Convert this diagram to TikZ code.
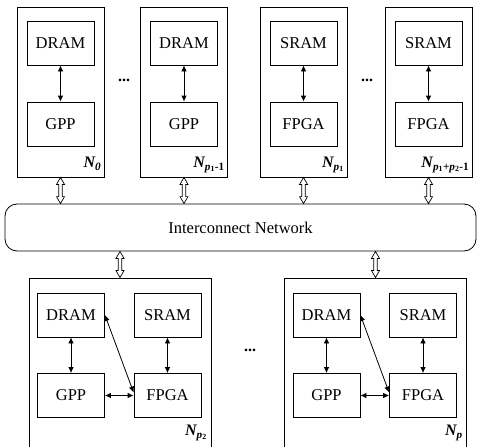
\documentclass[tikz,border=0pt]{standalone}
\usepackage{fontspec}
\setmainfont{Liberation Serif}
\usetikzlibrary{arrows.meta,calc}

\newcommand{\ix}[1]{\textsubscript{\upshape #1}}
% hollow double-shafted bus arrow between two points on one vertical
\newcommand{\bus}[2]{%
  \draw[busline] (#1) -- ++(4,7) -- ++(-2.25,0) -- ($(#2)+(1.75,-7)$) -- ++(2.25,0) -- (#2)
    -- ++(-4,-7) -- ++(2.25,0) -- ($(#1)+(-1.75,7)$) -- ++(-2.25,0) -- cycle;}

\tikzset{
  outerbox/.style={draw, line width=0.9pt, inner sep=0pt},
  unitbox/.style={draw, line width=0.8pt, minimum width=67pt, minimum height=44pt, inner sep=0pt},
  link/.style={line width=0.8pt, {Latex[length=6pt,width=5.5pt]}-{Latex[length=6pt,width=5.5pt]}},
  busline/.style={line width=0.7pt, fill=white},
  nlabel/.style={font=\fontsize{16pt}{19pt}\selectfont\bfseries\itshape, inner sep=0pt},
  dots/.style={font=\fontsize{16pt}{19pt}\selectfont\bfseries}
}

\begin{document}
\begin{tikzpicture}[x=1pt, y=-1pt, font=\fontsize{16.5pt}{19pt}\selectfont]
  \useasboundingbox (0,0) rectangle (477,447);
  \clip (0,0) rectangle (477,447);

  % Top nodes
  \foreach \i/\cx/\mem/\proc in {0/60.5/DRAM/GPP, 1/184/DRAM/GPP, 2/303.5/SRAM/FPGA, 3/428.5/SRAM/FPGA} {
    \node[outerbox, minimum width=87pt, minimum height=170pt] (n\i) at (\cx,92) {};
    \node[unitbox] (m\i) at (\cx,43) {\mem};
    \node[unitbox] (p\i) at (\cx,124) {\proc};
    \draw[link] (m\i) -- (p\i);
  }

  % Labels
  \node[nlabel, anchor=base east] at ([shift={(-3pt,10pt)}]n0.south east) {N\textsubscript{0}};
  \node[nlabel, anchor=base east] at ([shift={(-3pt,10pt)}]n1.south east) {N\textsubscript{p\ix{1}\upshape -1}};
  \node[nlabel, anchor=base east] at ([shift={(-3pt,10pt)}]n2.south east) {N\textsubscript{p\ix{1}}};
  \node[nlabel, anchor=base east] at ([shift={(-3pt,10pt)}]n3.south east) {N\textsubscript{p\ix{1}{\upshape +}p\ix{2}\upshape -1}};

  \node[dots] (d0) at (124,80) {...};
  \node[dots] (d1) at (367,80) {...};

  % Interconnect
  \node[draw, line width=0.8pt, rounded corners=12pt, minimum width=471pt, minimum height=47pt] (net) at (240.5,227.5) {Interconnect Network};

  \foreach \i in {0,...,3}
    \bus{n\i.south}{n\i.south |- net.north};

  % Bottom nodes
  \foreach \i/\cx in {0/120, 1/375.5} {
    \node[outerbox, minimum width=182pt, minimum height=175pt] (b\i) at (\cx,365.5) {};
    \node[unitbox] (bm\i) at ($(\cx,315)+(-49,0)$) {DRAM};
    \node[unitbox] (bs\i) at ($(\cx,315)+(47.5,0)$) {SRAM};
    \node[unitbox] (bp\i) at ($(\cx,395.5)+(-49,0)$) {GPP};
    \node[unitbox] (bf\i) at ($(\cx,395.5)+(47.5,0)$) {FPGA};
    \draw[link] (bm\i) -- (bp\i);
    \draw[link] (bs\i) -- (bf\i);
    \draw[link] (bp\i) -- (bf\i);
    \draw[link] (bm\i.east) -- ([yshift=3pt]bf\i.west);
    \bus{b\i.north |- net.south}{b\i.north};
  }

  \node[nlabel, anchor=base east] at ([shift={(-4pt,18pt)}]b0.south east) {N\textsubscript{p\ix{2}}};
  \node[nlabel, anchor=base east] at ([shift={(-4pt,18pt)}]b1.south east) {N\textsubscript{p}};

  \node[dots] (d2) at (250,350) {...};
\end{tikzpicture}
\end{document}
